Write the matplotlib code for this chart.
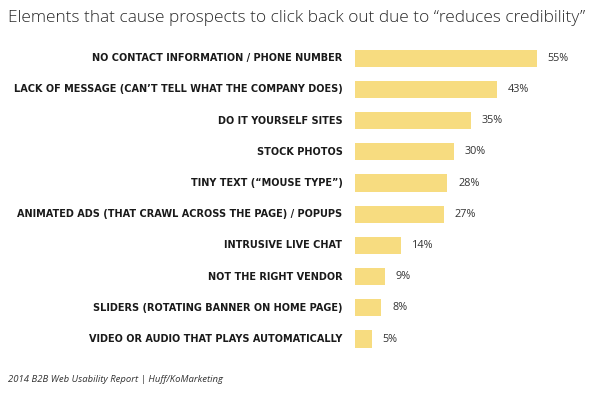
import matplotlib
matplotlib.use("Agg")
import matplotlib.pyplot as plt

# Datos (porcentaje de prospectos)
categorias = [
    "NO CONTACT INFORMATION / PHONE NUMBER",
    "LACK OF MESSAGE (CAN\u2019T TELL WHAT THE COMPANY DOES)",
    "DO IT YOURSELF SITES",
    "STOCK PHOTOS",
    "TINY TEXT (\u201cMOUSE TYPE\u201d)",
    "ANIMATED ADS (THAT CRAWL ACROSS THE PAGE) / POPUPS",
    "INTRUSIVE LIVE CHAT",
    "NOT THE RIGHT VENDOR",
    "SLIDERS (ROTATING BANNER ON HOME PAGE)",
    "VIDEO OR AUDIO THAT PLAYS AUTOMATICALLY",
]
valores = [55, 43, 35, 30, 28, 27, 14, 9, 8, 5]
etiquetas = ["55%", "43%", "35%", "30%", "28%", "27%", "14%", "9%", "8%", "5%"]

titulo = "Elements that cause prospects to click back out due to \u201creduces credibility\u201d"
fuente = "2014 B2B Web Usability Report | Huff/KoMarketing"

BAR_COLOR = "#F7DC80"

fig = plt.figure(figsize=(6.0, 3.93), dpi=100, facecolor="white")
ax = fig.add_axes([355 / 600, 1 - 354.6 / 393, 231 / 600, 312 / 393])

pos = list(range(len(categorias)))
ax.barh(pos, valores, height=0.55, color=BAR_COLOR, zorder=2)

ax.set_xlim(0, 70)
ax.set_ylim(len(categorias) - 0.5, -0.5)
ax.axis("off")

# Etiquetas de categoría a la izquierda, alineadas a la derecha
for i, cat in enumerate(categorias):
    ax.text(-3.8, i, cat, ha="right", va="center", fontsize=7.0,
            fontweight="bold", color="#1a1a1a", family="DejaVu Sans")

# Porcentajes a la derecha de cada barra
for i, (v, lab) in enumerate(zip(valores, etiquetas)):
    ax.text(v + 3.3, i, lab, ha="left", va="center", fontsize=7.8,
            color="#333333", family="Open Sans")

fig.text(8 / 600, 1 - 18 / 393, titulo, ha="left", va="center",
         fontsize=12.4, color="#2a2a2a", family="Open Sans", fontweight="light")
fig.text(8 / 600, 1 - 380 / 393, fuente, ha="left", va="center",
         fontsize=6.8, color="#333333", family="Open Sans", fontstyle="italic")

fig.savefig("out.png", dpi=100, facecolor="white")
